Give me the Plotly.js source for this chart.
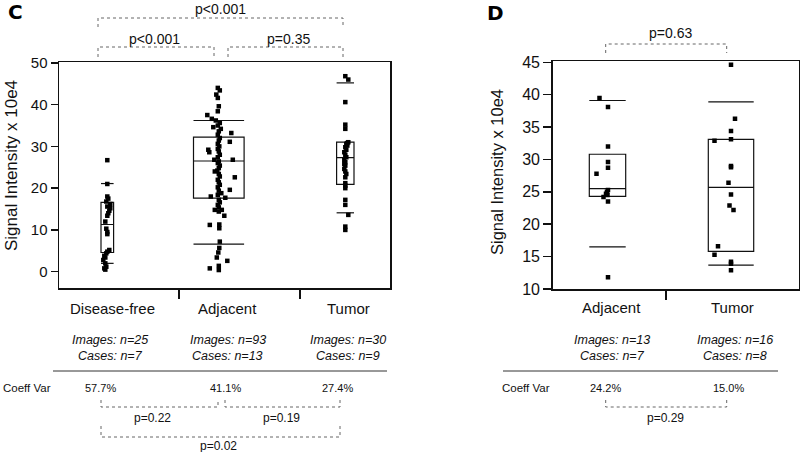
<!DOCTYPE html>
<html>
<head>
<meta charset="utf-8">
<script src="https://cdn.plot.ly/plotly-3.0.1.min.js"></script>
<style>
  body { margin: 0; background: #fff; }
  #chart { width: 800px; height: 452px; }
</style>
</head>
<body>
<div id="chart"></div>
<script>
// ---- panel C data ----
let cGroups = ["Disease-free", "Adjacent", "Tumor"];
let cImages = [25, 93, 30];
let cCases = [7, 13, 9];
let cCoeffVar = ["57.7%", "41.1%", "27.4%"];
let cQ10 = [2.0, 6.6, 14.1];
let cQ1 = [4.6, 17.6, 20.9];
let cMed = [11.3, 26.5, 27.3];
let cQ3 = [16.6, 32.2, 31.0];
let cQ90 = [21.1, 36.2, 45.2];

let cDiseaseFree = [26.7, 21.0, 18.0, 17.5, 16.8, 16.2, 15.6, 15.2, 14.6, 14.0, 13.4, 12.0, 10.3,
  9.5, 9.0, 5.2, 4.8, 4.4, 3.8, 3.4, 2.8, 2.0, 1.2, 0.8, 0.5];
let cDiseaseFreeJit = [0, 0, 0, 1, -1, 3, 0, 3, 2, 1, 0, -2, -1, 0, 0, 2, 0, -1, -3, -2, -4, -2, -1, -3, -2];

let cAdjacent = [44.0, 43.4, 42.4, 41.6, 39.6, 38.4, 37.5, 36.6, 36.2, 35.6, 35.0, 34.6, 34.2, 33.6, 33.2,
  32.8, 32.0, 31.4, 31.1, 30.6, 30.0, 29.4, 29.2, 28.8, 28.6, 28.0, 27.4, 26.8, 26.8, 26.4, 26.0, 25.4,
  24.8, 24.2, 24.0, 23.4, 22.8, 22.6, 22.0, 21.4, 20.8, 20.2, 19.6, 19.4, 18.8, 18.4, 18.0, 17.7, 17.2,
  16.6, 16.0, 15.4, 14.8, 14.8, 14.4, 13.4, 11.2, 11.3, 10.4, 7.2, 5.7, 4.6, 3.4, 2.6, 1.4, 0.8, 0.4];
let cAdjacentJit = [-1, 1, -2.5, -1, 0, -1, -11.5, -7, -3, 1, -1, -5.5, 2, 0, 12.5,
  -1, 1, 0, 11, -1, 0.5, -1, -10.5, 0, -9.5, 1, -1, 14, -4.5, 0, -1, 1,
  0, -1.5, -4, 0, 1, 16, -1, 0, 1, -1, 11, 0, 2.5, -1, -8, 6.5, 0,
  1, -1, 0, -4, 3, 0, 5.5, -9, 0.5, 0.5, 1, 0.5, -0.5, -2, 8.5, 0, -9, 0];

let cTumor = [46.8, 46.0, 40.6, 35.2, 34.2, 31.0, 30.8, 30.6, 30.2, 29.8, 29.2, 28.6, 28.0, 27.4, 26.8,
  26.2, 25.8, 25.4, 24.6, 24.0, 23.4, 22.6, 21.2, 20.6, 20.0, 17.2, 16.0, 13.6, 10.8, 10.0];
let cTumorJit = [0, 3, 0, 0, 0, 3, 2, 1, 2, 0, 1, -1, 0, 1, -1, 0, -1, 0, -1, 0, 1, 0, 0, 0, 0, 0, 0, 3, 0, 0];

// ---- panel D data ----
let dGroups = ["Adjacent", "Tumor"];
let dImages = [13, 16];
let dCases = [7, 8];
let dCoeffVar = ["24.2%", "15.0%"];
let dQ10 = [16.5, 13.7];
let dQ1 = [24.3, 15.8];
let dMed = [25.5, 25.7];
let dQ3 = [30.8, 33.1];
let dQ90 = [39.1, 38.9];

let dAdjacent = [39.5, 38.1, 32.0, 29.6, 28.7, 27.8, 25.3, 25.0, 24.7, 24.5, 24.2, 23.5, 11.8];
let dAdjacentJit = [-8, 0.5, 0.5, 0.5, 0.5, -11, 0.5, -0.5, -1.5, 0, -4, 0.5, 0.5];
let dTumor = [44.6, 36.3, 34.4, 33.1, 32.9, 29.0, 28.8, 26.4, 24.6, 22.9, 22.2, 16.6, 15.3, 14.2, 13.9, 12.9];
let dTumorJit = [0, 4, 0, 0, -16.5, 0, 0, -2.5, 0, -1.5, 2.5, -13, -16.5, 0, 0, 0];

// ---- layout helpers (pixel positions) ----
const W = 800, H = 452;
function px(x) { return x / W; }
function py(y) { return 1 - y / H; }

let cCenters = [107.3, 218.8, 345.3];
let cHalfW = [6.3, 25.3, 8.7];
let dCenters = [607.5, 731];
let dHalfW = [18.2, 22.7];

const FONT = "Liberation Sans, Arial, sans-serif";

let traces = [];

function addGroup(xa, ya, c, hw, vals, jit, q10, q1, med, q3, q90) {
  traces.push({
    type: "box", xaxis: xa, yaxis: ya, x: [c], q1: [q1], median: [med], q3: [q3],
    lowerfence: [q1], upperfence: [q3], width: 2 * hw, boxpoints: false,
    line: {color: "#111", width: 1.2}, fillcolor: "rgba(0,0,0,0)"
  });
  traces.push({
    type: "scatter", mode: "lines", xaxis: xa, yaxis: ya,
    x: [c - hw, c + hw, null, c - hw, c + hw],
    y: [q10, q10, null, q90, q90],
    line: {color: "#111", width: 1.2}
  });
  traces.push({
    type: "scatter", mode: "markers", xaxis: xa, yaxis: ya,
    x: jit.map(j => c + j), y: vals,
    marker: {symbol: "square", size: 4.5, color: "#000", line: {width: 0}}
  });
}

let cVals = [cDiseaseFree, cAdjacent, cTumor];
let cJits = [cDiseaseFreeJit, cAdjacentJit, cTumorJit];
for (let i = 0; i < cGroups.length; i++) {
  addGroup("x", "y", cCenters[i], cHalfW[i], cVals[i], cJits[i], cQ10[i], cQ1[i], cMed[i], cQ3[i], cQ90[i]);
}
let dVals = [dAdjacent, dTumor];
let dJits = [dAdjacentJit, dTumorJit];
for (let i = 0; i < dGroups.length; i++) {
  addGroup("x2", "y2", dCenters[i], dHalfW[i], dVals[i], dJits[i], dQ10[i], dQ1[i], dMed[i], dQ3[i], dQ90[i]);
}

// annotations
let annotations = [];
function ann(text, x, y, size, extra) {
  let a = {text: text, x: px(x), y: py(y), xref: "paper", yref: "paper", showarrow: false,
    xanchor: "center", yanchor: "middle", font: {family: FONT, size: size, color: "#111"}};
  return annotations.push(Object.assign(a, extra || {}));
}

ann("<b>C</b>", 15, 12, 20, {font: {family: "DejaVu Sans, " + FONT, size: 20, color: "#000"}});
ann("<b>D</b>", 495, 13, 20, {font: {family: "DejaVu Sans, " + FONT, size: 20, color: "#000"}});
ann("Signal Intensity x 10e4", 11, 166, 17, {textangle: -90});
ann("Signal Intensity x 10e4", 497, 172, 16.5, {textangle: -90});

// top p-values
ann("p<0.001", 220, 9, 14);
ann("p<0.001", 154, 39, 14);
ann("p=0.35", 288, 39, 14);
ann("p=0.63", 670, 33, 14);

let cLabelX = [112, 227, 348];
let cInfoX = [110, 228, 348];
let cCvX = [100, 225, 337];
for (let i = 0; i < cGroups.length; i++) {
  ann(cGroups[i], cLabelX[i], 308, 15);
  ann("<i>Images: n=" + cImages[i] + "</i>", cInfoX[i], 340, 12.5);
  ann("<i>Cases: n=" + cCases[i] + "</i>", cInfoX[i], 356, 12.5);
  ann(cCoeffVar[i], cCvX[i], 388, 11);
}
let dLabelX = [611, 732];
let dInfoX = [612, 735];
let dCvX = [605, 728];
for (let i = 0; i < dGroups.length; i++) {
  ann(dGroups[i], dLabelX[i], 307, 15);
  ann("<i>Images: n=" + dImages[i] + "</i>", dInfoX[i], 340, 12.5);
  ann("<i>Cases: n=" + dCases[i] + "</i>", dInfoX[i], 356, 12.5);
  ann(dCoeffVar[i], dCvX[i], 388, 11);
}
ann("Coeff Var", 1, 388, 11.5, {xanchor: "left"});
ann("Coeff Var", 500, 388, 11.5, {xanchor: "left"});

ann("p=0.22", 152, 418, 12);
ann("p=0.19", 281, 418, 12);
ann("p=0.02", 218, 446, 12);
ann("p=0.29", 665, 418, 12);

// brackets and rules
let shapes = [];
function bracket(x0, x1, yLine, yEnd) {
  shapes.push({type: "path", xref: "paper", yref: "paper",
    path: "M " + px(x0) + " " + py(yEnd) + " L " + px(x0) + " " + py(yLine) +
          " L " + px(x1) + " " + py(yLine) + " L " + px(x1) + " " + py(yEnd),
    line: {color: "#666", width: 1, dash: "dot"}});
}
bracket(98, 343, 18, 27);
bracket(98, 214, 47, 57);
bracket(228, 343, 47, 57);
bracket(605.7, 726.7, 44, 53);
bracket(101, 218, 407, 400);
bracket(225, 340, 407, 400);
bracket(101, 340, 437, 426);
bracket(605.7, 726.7, 407, 400);

function rule(x0, x1, y) {
  shapes.push({type: "line", xref: "paper", yref: "paper", x0: px(x0), x1: px(x1), y0: py(y), y1: py(y),
    line: {color: "#333", width: 1}});
}
rule(53, 387, 371);
rule(503, 778, 371);

let axisBase = {showline: true, mirror: true, linecolor: "#111", linewidth: 1.5,
  showgrid: false, zeroline: false, fixedrange: true};

let layout = {
  width: W, height: H,
  margin: {l: 0, r: 0, t: 0, b: 0},
  paper_bgcolor: "#fff", plot_bgcolor: "#fff",
  showlegend: false,
  xaxis: Object.assign({}, axisBase, {domain: [px(59), px(390)], range: [59, 390], anchor: "y",
    tickmode: "array", tickvals: [179, 300], ticks: "outside", ticklen: 9, tickwidth: 1.5,
    tickcolor: "#111", showticklabels: false}),
  yaxis: Object.assign({}, axisBase, {domain: [py(288), py(62)], range: [-3.9, 50.2], anchor: "x",
    tickmode: "array", tickvals: [0, 10, 20, 30, 40, 50], ticks: "outside", ticklen: 7, tickwidth: 1.5,
    tickcolor: "#111", tickfont: {family: FONT, size: 15, color: "#111"}}),
  xaxis2: Object.assign({}, axisBase, {domain: [px(552.7), px(799)], range: [552.7, 799], anchor: "y2",
    tickmode: "array", tickvals: [666], ticks: "outside", ticklen: 9, tickwidth: 1.5,
    tickcolor: "#111", showticklabels: false}),
  yaxis2: Object.assign({}, axisBase, {domain: [py(289), py(61.3)], range: [10, 45.15], anchor: "x2",
    tickmode: "array", tickvals: [10, 15, 20, 25, 30, 35, 40, 45], ticks: "outside", ticklen: 8, tickwidth: 1.5,
    tickcolor: "#111", tickfont: {family: FONT, size: 16, color: "#111"}}),
  annotations: annotations,
  shapes: shapes
};

Plotly.newPlot("chart", traces, layout, {staticPlot: true, displayModeBar: false});
</script>
</body>
</html>
